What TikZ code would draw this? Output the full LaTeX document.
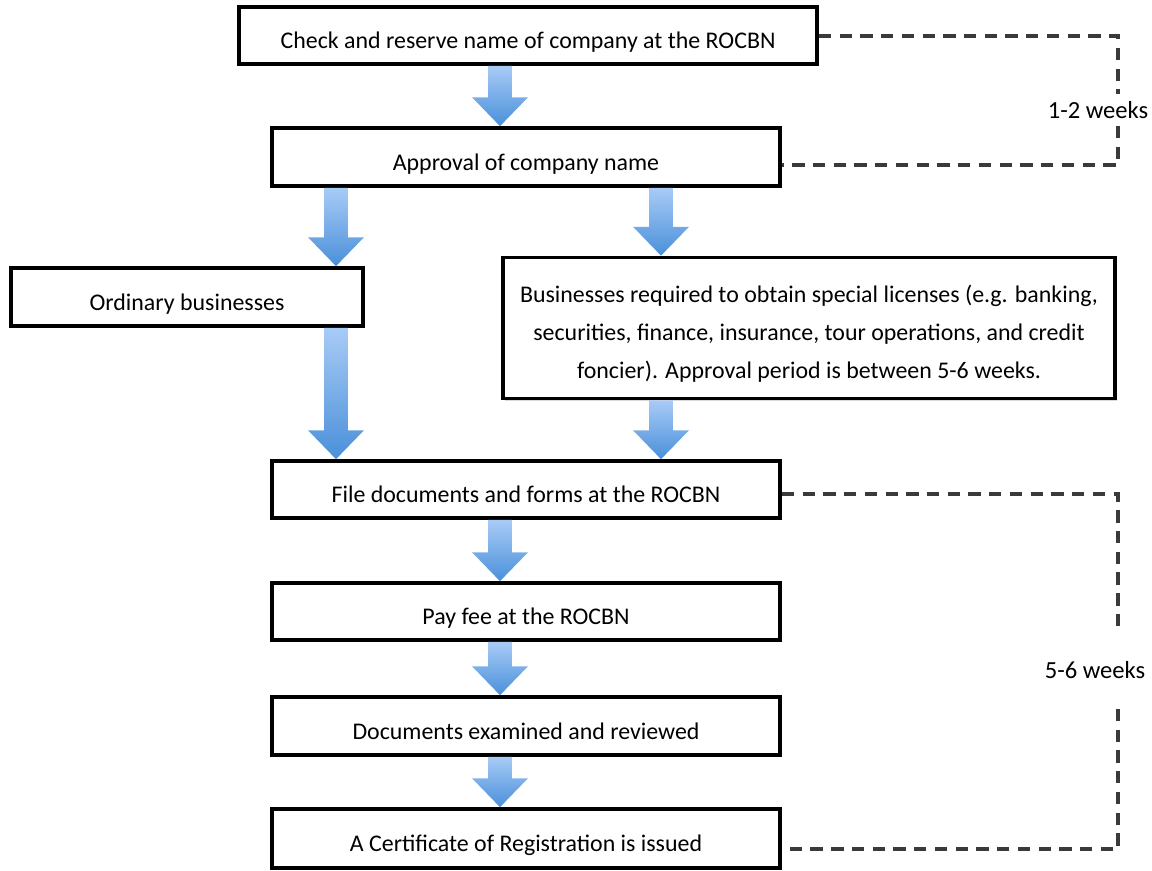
\documentclass[tikz,border=0pt]{standalone}
\usepackage{fontspec}
\setmainfont{Carlito}
\usepackage{tikz}
\usetikzlibrary{calc,shadows}
\definecolor{arrowtop}{RGB}{168,203,246}
\definecolor{arrowbot}{RGB}{74,144,218}
\definecolor{dashgray}{RGB}{58,58,58}

% block arrow: x position, from node, to node
\newcommand{\flowarrow}[3]{%
  \shade[top color=arrowtop, bottom color=arrowbot]
    let \p1=(#2.south), \p2=(#3.north), \p3=(#1,0) in
    (\x3-6.8pt,\y1) -- (\x3+6.8pt,\y1) -- (\x3+6.8pt,\y2+16.4pt)
    -- (\x3+15.9pt,\y2+16.4pt) -- (\x3,\y2) -- (\x3-15.9pt,\y2+16.4pt)
    -- (\x3-6.8pt,\y2+16.4pt) -- cycle;}

\begin{document}
\begin{tikzpicture}[x=0.02cm, y=-0.02cm,
    stepbox/.style={draw, line width=2.1pt, fill=white,
      drop shadow={opacity=0.3, shadow xshift=1.2pt, shadow yshift=-1.2pt},
      font=\fontsize{13.6}{21.6}\selectfont, text height=15pt, text depth=0pt,
      inner sep=0pt},
    dashline/.style={dashgray, line width=2.1pt, dash pattern=on 7pt off 4.8pt},
    weeks/.style={font=\fontsize{14}{17}\selectfont, inner xsep=1pt}]
    \useasboundingbox (0,0) rectangle (1152,871);

    % Boxes
    \node[stepbox, minimum width=578*0.02cm, minimum height=57*0.02cm] (check) at (528,35.5)
        {Check and reserve name of company at the ROCBN};
    \node[stepbox, minimum width=508*0.02cm, minimum height=58*0.02cm] (approve) at (526,157)
        {Approval of company name};
    \node[stepbox, minimum width=352*0.02cm, minimum height=58*0.02cm] (ordinary) at (187,297)
        {Ordinary businesses};
    \node[stepbox, minimum width=612*0.02cm, minimum height=141*0.02cm,
          text height=, text depth=, align=center] (special) at (809,328)
        {\rule{0pt}{16pt}Businesses required to obtain special licenses (e.g. banking,\\
         securities, finance, insurance, tour operations, and credit\\
         foncier). Approval period is between 5-6 weeks.};
    \node[stepbox, minimum width=508*0.02cm, minimum height=57*0.02cm] (file) at (526,489.5)
        {File documents and forms at the ROCBN};
    \node[stepbox, minimum width=508*0.02cm, minimum height=57*0.02cm] (pay) at (526,611.5)
        {Pay fee at the ROCBN};
    \node[stepbox, minimum width=508*0.02cm, minimum height=58*0.02cm] (docs) at (526,726)
        {Documents examined and reviewed};
    \node[stepbox, minimum width=508*0.02cm, minimum height=59*0.02cm] (cert) at (526,838.5)
        {A Certificate of Registration is issued};

    % Block arrows
    \flowarrow{500}{check}{approve}
    \flowarrow{336}{approve}{ordinary}
    \flowarrow{661}{approve}{special}
    \flowarrow{336}{ordinary}{file}
    \flowarrow{661}{special}{file}
    \flowarrow{500}{file}{pay}
    \flowarrow{500}{pay}{docs}
    \flowarrow{500}{docs}{cert}

    % Durations
    \node[weeks, inner ysep=4pt] (wk12) at (1098,110) {1-2 weeks};
    \node[weeks, inner ysep=17pt] (wk56) at (1095,670) {5-6 weeks};
    \coordinate (c1) at (1118,36);
    \coordinate (c2) at (1118,165);
    \coordinate (c3) at (1118,494);
    \coordinate (c4) at (1118,849);
    \draw[dashline] (check.east |- c1) -- (c1) -- (c1 |- wk12.north);
    \draw[dashline] (c1 |- wk12.south) -- (c2) -- (approve.east |- c2);
    \draw[dashline] (file.east |- c3) -- (c3) -- (c3 |- wk56.north);
    \draw[dashline] (c3 |- wk56.south) -- (c4) -- (cert.east |- c4);
\end{tikzpicture}
\end{document}
